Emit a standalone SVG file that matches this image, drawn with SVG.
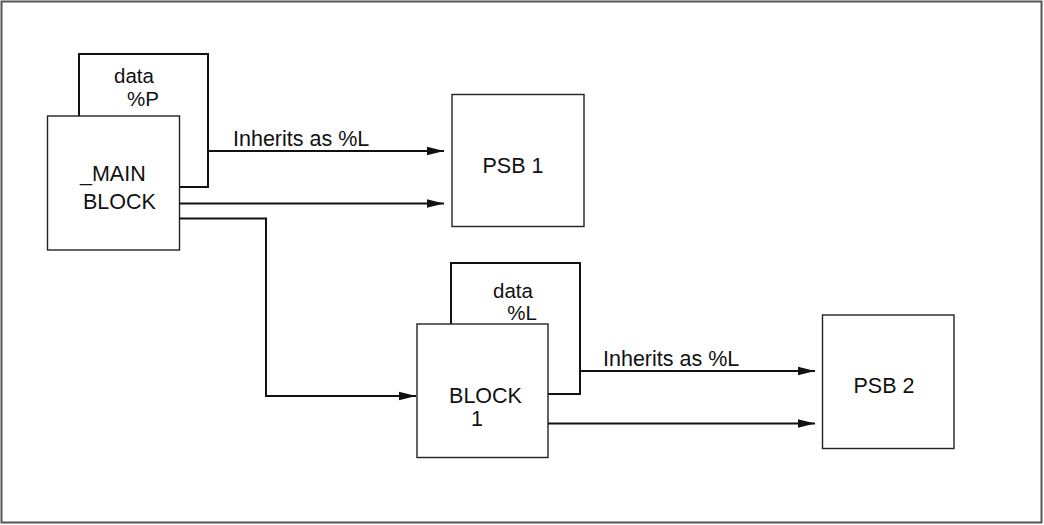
<svg xmlns="http://www.w3.org/2000/svg" width="1044" height="525" viewBox="0 0 1044 525">
  <style>
    .frame { fill: #ffffff; stroke: #555555; stroke-width: 2; }
    .box { fill: #ffffff; stroke: #222222; stroke-width: 1.4; }
    .back { fill: none; stroke: #111111; stroke-width: 2; }
    .wire { fill: none; stroke: #111111; stroke-width: 2; }
    .lbl { font-family: "Liberation Sans", Arial, sans-serif; font-size: 21.5px; fill: #111111; }
    .rec { font-family: "Liberation Sans", Arial, sans-serif; font-size: 20.5px; fill: #111111; text-anchor: middle; }
  </style>
  <defs>
    <marker id="arrow" markerUnits="userSpaceOnUse" markerWidth="18" markerHeight="10" refX="17" refY="5" orient="auto">
      <path d="M0,0.8 L17,5 L0,9.2 Z" fill="#111111"/>
    </marker>
  </defs>

  <!-- outer frame -->
  <rect class="frame" x="1.5" y="1.5" width="1040" height="521"/>

  <!-- main block with its data record behind -->
  <g id="main-block">
    <path class="back" d="M79,116 V54 H208 V187 H179"/>
    <text class="rec" x="134" y="83">data</text>
    <text class="rec" x="143" y="106">%P</text>
    <rect class="box" x="47.5" y="116" width="132" height="134"/>
    <text class="lbl"><tspan x="80" y="181">_MAIN</tspan><tspan x="83" y="209">BLOCK</tspan></text>
  </g>

  <!-- PSB 1 -->
  <g id="psb1">
    <rect class="box" x="452" y="94.5" width="132" height="132"/>
    <text class="lbl" x="513" y="173" text-anchor="middle">PSB 1</text>
  </g>

  <!-- block 1 with its data record behind -->
  <g id="block1">
    <path class="back" d="M451,324 V263 H580 V394 H548"/>
    <text class="rec" x="513" y="298">data</text>
    <text class="rec" x="522" y="320">%L</text>
    <rect class="box" x="417" y="324" width="131" height="133.5"/>
    <text class="lbl" text-anchor="middle"><tspan x="485.5" y="403">BLOCK</tspan><tspan x="477" y="426">1</tspan></text>
  </g>

  <!-- PSB 2 -->
  <g id="psb2">
    <rect class="box" x="822.5" y="315" width="131.5" height="133.5"/>
    <text class="lbl" x="884" y="393" text-anchor="middle">PSB 2</text>
  </g>

  <!-- connectors -->
  <g id="connectors">
    <path class="wire" d="M208,151 H444" marker-end="url(#arrow)"/>
    <text class="lbl" x="233" y="146">Inherits as %L</text>
    <path class="wire" d="M179,203.5 H444" marker-end="url(#arrow)"/>
    <path class="wire" d="M179,218.5 H266 V396 H416" marker-end="url(#arrow)"/>
    <path class="wire" d="M580,371 H815" marker-end="url(#arrow)"/>
    <text class="lbl" x="603" y="366">Inherits as %L</text>
    <path class="wire" d="M548,423.5 H815" marker-end="url(#arrow)"/>
  </g>
</svg>
